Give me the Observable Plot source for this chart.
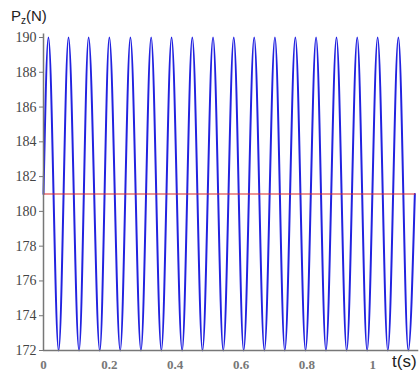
<!DOCTYPE html>
<html>
<head>
<meta charset="utf-8">
<script src="https://cdn.jsdelivr.net/npm/d3@7"></script>
<script src="https://cdn.jsdelivr.net/npm/@observablehq/plot@0.6"></script>
<style>
  html, body { margin: 0; padding: 0; background: #fff; }
  #chart svg { display: block; }
  #chart svg text.serif, #chart svg .serif text { font-family: "Liberation Serif", "DejaVu Serif", "Times New Roman", serif !important; }
</style>
</head>
<body>
<div id="chart"></div>
<script>
// Values
const startPoint = {t: 0, p: 181};
const endPoint = {t: 1.128, p: 181};
const peakTimes = [0.015, 0.076, 0.137, 0.200, 0.264, 0.327, 0.389, 0.452, 0.515, 0.578, 0.640, 0.703, 0.765, 0.828, 0.890, 0.953, 1.015, 1.078];
const troughTimes = [0.046, 0.108, 0.171, 0.233, 0.296, 0.358, 0.421, 0.483, 0.546, 0.608, 0.671, 0.733, 0.796, 0.858, 0.921, 0.983, 1.046, 1.108];
const peakValue = 190;
const troughValue = 172;
const meanValue = 181;
const yTicks = [172, 174, 176, 178, 180, 182, 184, 186, 188, 190];
const xTicks = [0, 0.2, 0.4, 0.6, 0.8, 1];

const signal = [startPoint];
peakTimes.forEach((t, i) => {
  signal.push({t, p: peakValue});
  signal.push({t: troughTimes[i], p: troughValue});
});
signal.push(endPoint);

const meanLine = [{t: 0, p: meanValue}, {t: endPoint.t, p: meanValue}];

const chart = Plot.plot({
  width: 420,
  height: 373,
  marginLeft: 43,
  marginTop: 37,
  marginBottom: 23,
  marginRight: 5,
  style: {background: "#fff"},
  x: {domain: [0, 1.13], label: null},
  y: {domain: [172, 190], label: null},
  marks: [
    Plot.line(signal, {x: "t", y: "p", curve: "monotone-x", stroke: "#2222e0", strokeWidth: 2}),
    Plot.line(meanLine, {x: "t", y: "p", stroke: "#e02828", strokeWidth: 1.2}),
    Plot.axisY({ticks: yTicks, tickSize: 4, tickPadding: 3, tickFormat: d3.format("d"),
      fontSize: 14, fill: "#444", stroke: "#777", className: "serif"}),
    Plot.axisX({ticks: xTicks, tickSize: 0, tickPadding: 9, tickFormat: d => String(d),
      fontSize: 13, fontWeight: "bold", fill: "#777", className: "serif"}),
    Plot.ruleX([0], {y1: 172, y2: 190.2, stroke: "#777", strokeWidth: 1.5}),
    Plot.ruleY([172], {x1: 0, x2: 1.14, stroke: "#777", strokeWidth: 1.5, clip: false})
  ]
});

document.getElementById("chart").appendChild(chart);

const svg = d3.select(chart);
svg.selectAll("text")
  .classed("serif", true)
  .attr("font-family", "Liberation Serif, DejaVu Serif, Times New Roman, serif");

const yLabel = svg.append("text")
  .attr("x", 11).attr("y", 21)
  .attr("text-anchor", "start")
  .attr("font-family", "Liberation Sans, Arial, sans-serif")
  .attr("font-size", 15)
  .attr("fill", "#222");
yLabel.append("tspan").text("P");
yLabel.append("tspan").attr("font-size", 10).attr("dy", 3).text("z");
yLabel.append("tspan").attr("dy", -3).text("(N)");

svg.append("text")
  .attr("x", 392).attr("y", 367)
  .attr("text-anchor", "start")
  .attr("font-family", "Liberation Sans, Arial, sans-serif")
  .attr("font-size", 17)
  .attr("fill", "#222")
  .text("t(s)");
</script>
</body>
</html>
